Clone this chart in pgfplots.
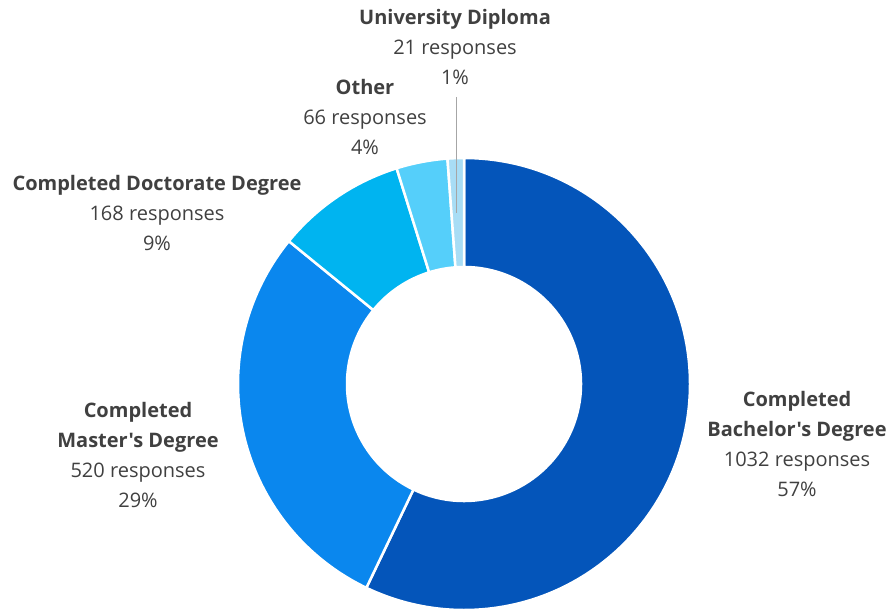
\documentclass[border=0pt]{standalone}
\usepackage{fontspec}
\setmainfont{Open Sans}[Ligatures=TeXOff]
\usepackage{pgfplots}
\usepackage{pgfplotstable}
\pgfplotsset{compat=1.18}
\definecolor{cBach}{HTML}{0455BA}
\definecolor{cMast}{HTML}{0A87EE}
\definecolor{cDoc}{HTML}{00B4F0}
\definecolor{cOther}{HTML}{55CFFA}
\definecolor{cDip}{HTML}{A8DDF5}
\definecolor{txt}{HTML}{404040}
\pgfplotstableread[col sep=comma]{
name,value
Bachelor,1032
Master,520
Doctorate,168
Other,66
Diploma,21
}\datatable
\newcommand\cx{464}
\newcommand\cy{223}
\newcommand\Ro{226}
\newcommand\Ri{117}
\newcommand\slice[3]{%
  \fill[#3, draw=white, line width=2.5pt]
    (axis cs:{\cx+\Ro*cos(#1)},{\cy+\Ro*sin(#1)})
    arc[start angle=#1, end angle=#2, radius=\Ro pt]
    -- (axis cs:{\cx+\Ri*cos(#2)},{\cy+\Ri*sin(#2)})
    arc[start angle=#2, end angle=#1, radius=\Ri pt] -- cycle;}
\begin{document}
\begin{tikzpicture}
\pgfplotstablegetelem{0}{value}\of\datatable \let\vA\pgfplotsretval
\pgfplotstablegetelem{1}{value}\of\datatable \let\vB\pgfplotsretval
\pgfplotstablegetelem{2}{value}\of\datatable \let\vC\pgfplotsretval
\pgfplotstablegetelem{3}{value}\of\datatable \let\vD\pgfplotsretval
\pgfplotstablegetelem{4}{value}\of\datatable \let\vE\pgfplotsretval
\pgfmathsetmacro\tot{\vA+\vB+\vC+\vD+\vE}
\pgfmathsetmacro\aA{90}
\pgfmathsetmacro\aB{\aA-360*(\vA/\tot)}
\pgfmathsetmacro\aC{\aB-360*(\vB/\tot)}
\pgfmathsetmacro\aD{\aC-360*(\vC/\tot)}
\pgfmathsetmacro\aE{\aD-360*(\vD/\tot)}
\pgfmathsetmacro\aF{-270}
\begin{axis}[
  scale only axis, width=891pt, height=607pt,
  xmin=0, xmax=891, ymin=0, ymax=607,
  hide axis, clip=false,
]
\addplot[draw=none] coordinates {(0,0) (891,607)};
\slice{\aA}{\aB}{cBach}
\slice{\aB}{\aC}{cMast}
\slice{\aC}{\aD}{cDoc}
\slice{\aD}{\aE}{cOther}
\slice{\aE}{\aF}{cDip}
\draw[gray!70, line width=1pt] (axis cs:456,510) -- (axis cs:456,394);
\tikzset{lab/.style={align=center, text=txt, font=\fontsize{20}{30}\selectfont, inner sep=0pt}}
\node[lab] at (axis cs:455,560) {\textbf{University Diploma}\\21 responses\\1\%};
\node[lab] at (axis cs:365,490) {\textbf{Other}\\66 responses\\4\%};
\node[lab] at (axis cs:157,394) {\textbf{Completed Doctorate Degree}\\168 responses\\9\%};
\node[lab] at (axis cs:138,152) {\textbf{Completed}\\\textbf{Master's Degree}\\520 responses\\29\%};
\node[lab] at (axis cs:797,163) {\textbf{Completed}\\\textbf{Bachelor's Degree}\\1032 responses\\57\%};
\end{axis}
\end{tikzpicture}
\end{document}
